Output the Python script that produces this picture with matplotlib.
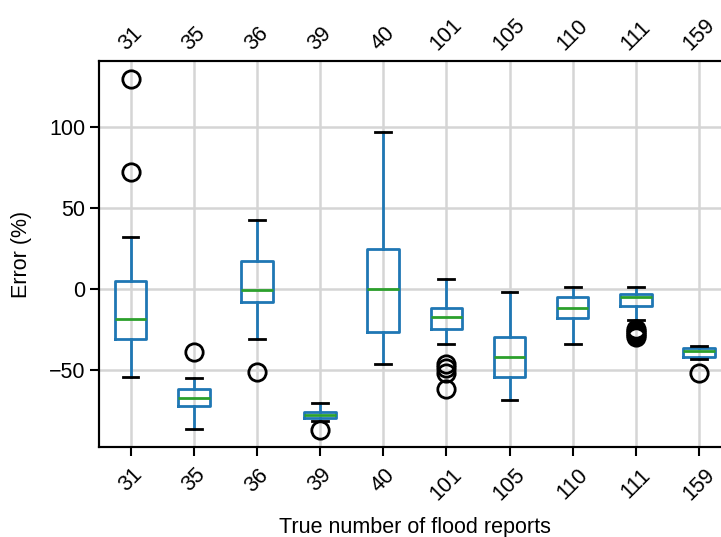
import matplotlib
matplotlib.use("Agg")
import matplotlib.pyplot as plt

plt.rcParams['font.family'] = ['Liberation Sans', 'DejaVu Sans']

# true number of flood reports (categories)
reports = ['31', '35', '36', '39', '40', '101', '105', '110', '111', '159']

# box statistics, error in %
medians = [-18.7, -67.3, -0.6, -78.0, -0.2, -17.1, -41.8, -11.5, -5.1, -38.1]
q1 = [-30.9, -72.2, -8.2, -79.8, -26.7, -24.9, -54.1, -18.1, -10.3, -42.2]
q3 = [5.1, -61.5, 17.3, -76.1, 24.9, -11.9, -29.4, -4.9, -2.9, -36.6]
whislo = [-54.5, -86.4, -30.7, -81.5, -46.5, -33.7, -68.5, -33.7, -19.3, -43.0]
whishi = [32.3, -54.7, 42.6, -70.6, 96.7, 6.2, -1.6, 1.4, 1.0, -35.4]
fliers = [
    [129.4, 72.0],
    [-38.7],
    [-51.0],
    [-87.0],
    [],
    [-46.5, -49.0, -52.0, -62.0],
    [],
    [],
    [-24.5, -25.8, -27.0, -28.3, -29.4],
    [-52.0],
]

stats = []
for i in range(len(reports)):
    stats.append({'med': medians[i], 'q1': q1[i], 'q3': q3[i],
                  'whislo': whislo[i], 'whishi': whishi[i],
                  'fliers': fliers[i], 'label': reports[i]})

fs = 15.5
lw = 2.0

fig = plt.figure(figsize=(7.21, 5.37), dpi=100)
ax = fig.add_axes([0.1373, 0.1676, 0.876, 0.7188])

ax.bxp(stats, widths=0.5, showfliers=True,
       boxprops=dict(color='#1f77b4', linewidth=lw),
       whiskerprops=dict(color='#1f77b4', linewidth=lw),
       medianprops=dict(color='#2ca02c', linewidth=lw),
       capprops=dict(color='black', linewidth=lw),
       flierprops=dict(marker='o', markerfacecolor='none', markeredgecolor='black',
                       markersize=12.5, markeredgewidth=2.0))

ax.set_xlim(0.5, 10.5)
ax.set_ylim(-97.5, 140.7)
ax.set_yticks([-50, 0, 50, 100])
ax.grid(True, color='#d5d5d5', linewidth=1.8)
ax.set_axisbelow(True)
ax.tick_params(labelsize=fs, width=1.5, length=6.5)
ax.tick_params(axis='x', pad=6)
plt.setp(ax.get_xticklabels(), rotation=45)
for s in ax.spines.values():
    s.set_linewidth(1.5)

ax.set_xlabel('True number of flood reports', fontsize=fs, labelpad=9)
ax.set_ylabel('Error (%)', fontsize=fs, labelpad=12)

# same labels along the top
top = ax.twiny()
top.set_xlim(ax.get_xlim())
top.set_xticks(range(1, len(reports) + 1))
top.set_xticklabels(reports, rotation=45, fontsize=fs)
top.tick_params(length=0, pad=5)
for s in top.spines.values():
    s.set_linewidth(1.5)

fig.savefig('out.png', dpi=100)
